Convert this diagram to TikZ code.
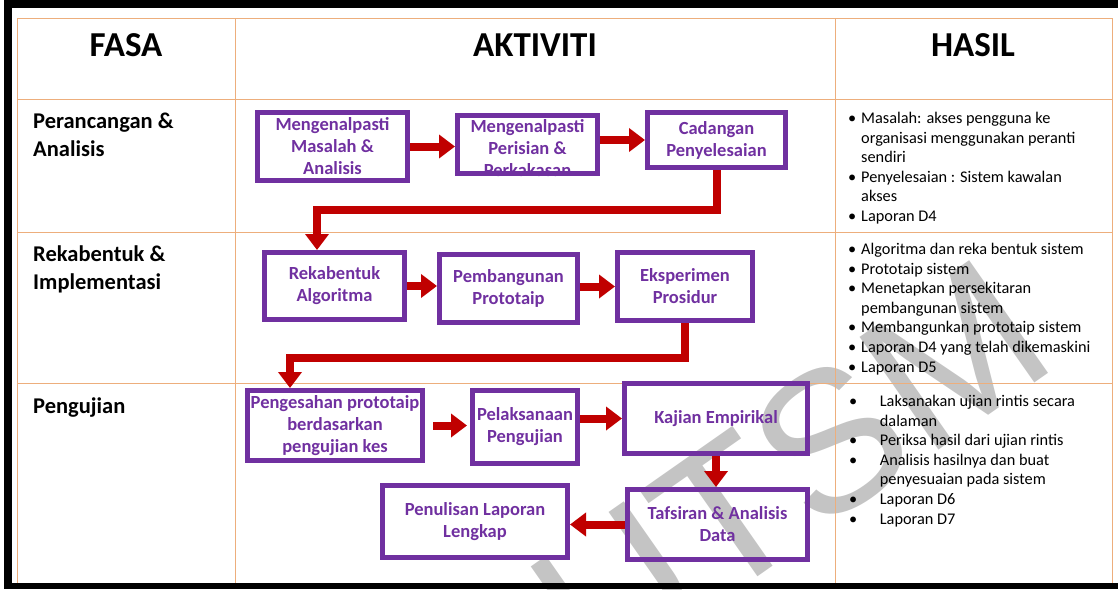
\documentclass[tikz,border=0pt]{standalone}
\usepackage{fontspec}
\setmainfont{Carlito}
\newfontfamily\wmfont{Liberation Sans}
\usetikzlibrary{arrows.meta, positioning, calc}
\definecolor{gridorange}{HTML}{EDAE7C}
\definecolor{boxpurple}{HTML}{7030A0}
\definecolor{arrred}{HTML}{C00000}
\definecolor{wmgray}{HTML}{C4C4C4}
\tikzset{
  hdr/.style={font=\fontsize{35}{40}\selectfont\bfseries},
  fasa/.style={
    anchor=north west, inner sep=0pt, align=left,
    font=\fontsize{22.5}{28}\selectfont\bfseries,
  },
  act/.style={
    rectangle, draw=boxpurple, line width=5pt,
    text=boxpurple, align=center, inner sep=0pt,
    font=\fontsize{18.5}{22}\selectfont\bfseries,
  },
  acttxt/.style={
    text=boxpurple, align=center, inner sep=0pt,
    font=\fontsize{18.5}{22}\selectfont\bfseries,
  },
  hasil/.style={
    anchor=north west, inner sep=0pt, align=left,
    font=\fontsize{16.3}{19.6}\selectfont,
  },
  arr/.style={-{Triangle[length=16pt, width=23pt]}, line width=8pt, arrred},
  grid/.style={draw=gridorange, line width=1pt},
  wmark/.style={font=\wmfont\fontsize{200}{200}\selectfont, text=wmgray},
}
\newcommand{\bul}[1][13pt]{\makebox[#1][l]{\textbullet}}
\newcommand{\ind}[1][13pt]{\hspace*{#1}}

\begin{document}
\begin{tikzpicture}[x=1pt, y=-1pt]
\useasboundingbox (0,0) rectangle (1118,589);

% ── watermark behind everything ────────────────────────────────────────
\node[wmark, rotate=35] (wm) at (790,470) {UTSM};

% ── table grid ─────────────────────────────────────────────────────────
\draw[grid] (17,18) rectangle (1112,583);
\draw[grid] (17,99) -- (1112,99);
\draw[grid] (17,232) -- (1112,232);
\draw[grid] (17,383) -- (1112,383);
\draw[grid] (235,18) -- (235,583);
\draw[grid] (835,18) -- (835,583);

% ── black frame ────────────────────────────────────────────────────────
\fill[black] (4,0) rectangle (1118,8);
\fill[black] (4,0) rectangle (12,589);
\fill[black] (4,583) rectangle (1118,589);

% ── header row ─────────────────────────────────────────────────────────
\node[hdr] (hfasa) at (126,45) {FASA};
\node[hdr] (hakt)  at (535,45) {AKTIVITI};
\node[hdr] (hhas)  at (973,45) {HASIL};

% ── phase column ───────────────────────────────────────────────────────
\node[fasa] (f1) at (33,113) {Perancangan \&\\Analisis};
\node[fasa] (f2) at (33,246) {Rekabentuk \&\\Implementasi};
\node[fasa] (f3) at (33,398) {Pengujian};

% ── activities: row 1 ──────────────────────────────────────────────────
\node[act, minimum width=150pt, minimum height=68pt] (b1) at (332.5,146.5)
      {Mengenalpasti\\Masalah \&\\Analisis};
% text of b2 sits low and runs onto the bottom edge
\node[act, minimum width=140pt, minimum height=58pt] (b2) at (527.5,144.5) {};
\node[acttxt] (b2txt) at ($(b2.center)+(0,3.5)$)
      {Mengenalpasti\\Perisian \&\\Perkakasan};
\node[act, minimum width=138pt, minimum height=55pt] (b3) at (716.5,140)
      {Cadangan\\Penyelesaian};

% ── activities: row 2 ──────────────────────────────────────────────────
\node[act, minimum width=140pt, minimum height=67pt] (b4) at (334.5,286)
      {Rekabentuk\\Algoritma};
\node[act, minimum width=138pt, minimum height=68pt] (b5) at (508.5,288.5)
      {Pembangunan\\Prototaip};
\node[act, minimum width=135pt, minimum height=68pt] (b6) at (685,286.5)
      {Eksperimen\\Prosidur};

% ── activities: row 3 ──────────────────────────────────────────────────
\node[act, minimum width=175pt, minimum height=70pt] (b7) at (335,425.5)
      {Pengesahan prototaip\\berdasarkan\\pengujian kes};
\node[act, minimum width=105pt, minimum height=73pt] (b8) at (525,427)
      {Pelaksanaan\\Pengujian};
\node[act, minimum width=183pt, minimum height=70pt] (b9) at (716,418.5)
      {Kajian Empirikal};
\node[act, minimum width=180pt, minimum height=70pt] (b10) at (717.5,524.5)
      {Tafsiran \& Analisis\\Data};
\node[act, minimum width=185pt, minimum height=72pt] (b11) at (475,521.5)
      {Penulisan Laporan\\Lengkap};

% ── arrows ─────────────────────────────────────────────────────────────
\draw[arr] (b1.east) -- (b1.east -| b2.west);
\draw[arr] (b2.east |- b3.west) -- (b3.west);
\coordinate (turn1) at (317,210);
\draw[arr] (b3.south) |- (turn1) -- (turn1 |- b4.north);

\draw[arr] (b4.east) -- (b4.east -| b5.west);
\draw[arr] (b5.east |- b6.west) -- (b6.west);
\coordinate (turn2) at (290,358);
\draw[arr] (b6.south) |- (turn2) -- (turn2 |- b7.north);

\draw[arr, shorten <=8pt, shorten >=3pt] (b7.east) -- (b7.east -| b8.west);
\draw[arr] (b8.east |- b9.west) -- (b9.west);
\draw[arr] (b9.south) -- (b9.south |- b10.north);
\draw[arr] (b10.west) -- (b10.west -| b11.east);

% ── results column ─────────────────────────────────────────────────────
\node[hasil] (r1) at (848,112)
      {\bul Masalah: akses pengguna ke\\
       \ind organisasi menggunakan peranti\\
       \ind sendiri\\
       \bul Penyelesaian : Sistem kawalan\\
       \ind akses\\
       \bul Laporan D4};
\node[hasil] (r2) at (848,243)
      {\bul Algoritma dan reka bentuk sistem\\
       \bul Prototaip sistem\\
       \bul Menetapkan persekitaran\\
       \ind pembangunan sistem\\
       \bul Membangunkan prototaip sistem\\
       \bul Laporan D4 yang telah dikemaskini\\
       \bul Laporan D5};
\node[hasil] (r3) at (849,395)
      {\bul[27pt] Laksanakan ujian rintis secara\\
       \ind[27pt] dalaman\\
       \bul[27pt] Periksa hasil dari ujian rintis\\
       \bul[27pt] Analisis hasilnya dan buat\\
       \ind[27pt] penyesuaian pada sistem\\
       \bul[27pt] Laporan D6\\
       \bul[27pt] Laporan D7};

\end{tikzpicture}
\end{document}
